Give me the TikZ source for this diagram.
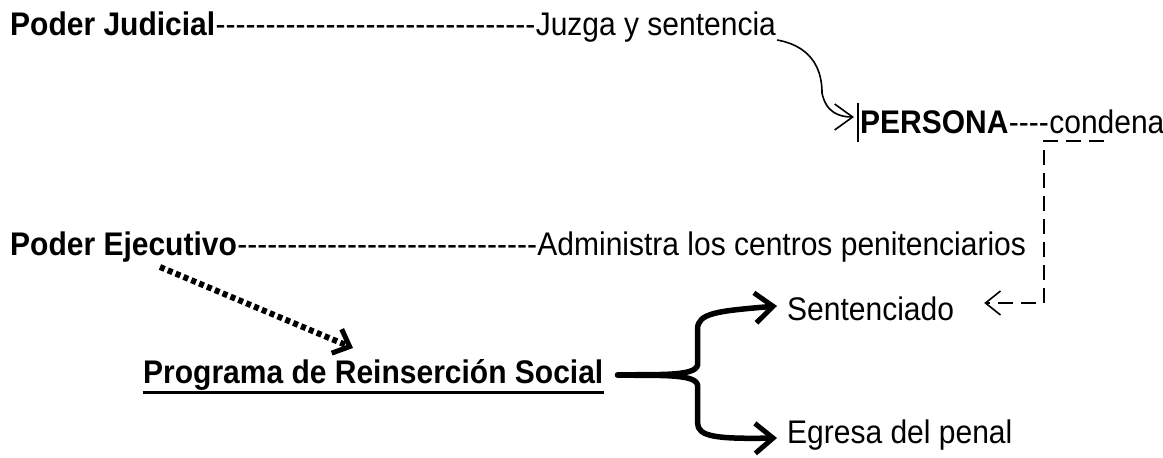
\documentclass[tikz,border=0pt]{standalone}
\usepackage{fontspec}
\usepackage{graphicx}
\setmainfont{Liberation Sans}[Ligatures=TeXOff]
\usetikzlibrary{arrows.meta,calc}
\newcommand{\tall}[1]{\scalebox{1}[1.09]{#1}}
\begin{document}
\begin{tikzpicture}[x=1pt,y=-1pt,
  txt/.style={anchor=base west,inner sep=0pt,font=\fontsize{30}{36}\selectfont},
  btxt/.style={txt,font=\fontsize{30}{36}\selectfont\bfseries},
  thin arrow/.style={line width=1.6pt,-{Straight Barb[length=18pt,width=26pt,line width=1.6pt]}},
  dash arrow/.style={line width=1.6pt,dash pattern=on 15pt off 8pt,-{Straight Barb[length=15pt,width=24pt,line width=1.6pt]}},
  thick arrow/.style={line width=5.5pt,line cap=round,line join=round,-{Straight Barb[length=18pt,width=30pt,line width=5pt]}},
  dot arrow/.style={line width=6pt,dash pattern=on 5pt off 3.5pt,-{Straight Barb[length=14pt,width=26pt,line width=5pt]}}]
\useasboundingbox (0,0) rectangle (1163,458);
% line 1
\node[btxt] (pj) at (10,35) {\tall{Poder Judicial}};
\node[txt] (pjd) at (pj.base east) {\tall{--------------------------------}};
\node[txt] (jz) at (pjd.base east) {\tall{Juzga y sentencia}};
% persona line
\node[btxt] (per) at (860,133) {\tall{PERSONA}};
\node[txt] (perd) at (per.base east) {\tall{----}};
\node[txt] (con) at (perd.base east) {\tall{condena}};
\draw[line width=1.5pt] ($(per.base west)+(-2,-30)$) -- ($(per.base west)+(-2,9)$);
% line 2
\node[btxt] (pe) at (10,255) {\tall{Poder Ejecutivo}};
\node[txt] (ped) at (pe.base east) {\tall{------------------------------}};
\node[txt] (adm) at (ped.base east) {\tall{Administra los centros penitenciarios}};
% programa
\node[btxt] (prs) at (143,383) {\tall{Programa de Reinserción Social}};
\draw[line width=3pt] ($(prs.base west)+(0,9)$) -- ($(prs.base east)+(0,9)$);
% outcomes
\node[txt] (sen) at (787,320) {\tall{Sentenciado}};
\node[txt] (egr) at (787,443) {\tall{Egresa del penal}};
% connectors
\draw[thin arrow] ($(jz.base east)+(1,5)$) .. controls ($(jz.base east)+(40,12)$) and ($(jz.base east)+(46,40)$) .. ($(per.base west)+(-38,-40)$) .. controls ($(per.base west)+(-34,-20)$) and ($(per.base west)+(-20,-16)$) .. ($(per.base west)+(-6,-16)$);
\coordinate (dA) at ($(con.base west)+(55,8)$);
\coordinate (dB) at ($(con.base west)+(-5,8)$);
\coordinate (dC) at ($(sen.base east)+(30,-17)$);
\draw[dash arrow] (dA) -- (dB) -- (dB |- dC) -- (dC);
\draw[dot arrow] ($(pe.base west)+(150,12)$) -- ($(prs.base west)+(210,-35)$);
\coordinate (br) at ($(prs.base east)+(14,-8)$);
\draw[thick arrow] (br) .. controls ($(br)+(36,-1)$) and ($(br)+(78,2)$) .. ($(br)+(80,-10)$) -- ($(br)+(80,-46)$) .. controls ($(br)+(80,-62)$) and ($(br)+(100,-64)$) .. ($(sen.base west)+(-10,-14)$);
\draw[thick arrow] (br) .. controls ($(br)+(36,1)$) and ($(br)+(78,-2)$) .. ($(br)+(80,10)$) -- ($(br)+(80,48)$) .. controls ($(br)+(80,62)$) and ($(br)+(100,64)$) .. ($(egr.base west)+(-10,-5)$);
\end{tikzpicture}
\end{document}
